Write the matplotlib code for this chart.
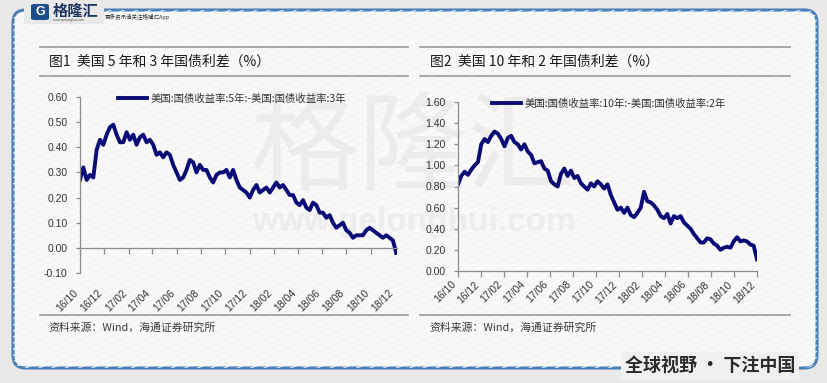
import numpy as np
import pandas as pd
import matplotlib
matplotlib.use('Agg')
import matplotlib.pyplot as plt
from matplotlib.patches import FancyBboxPatch, Rectangle
from matplotlib.lines import Line2D

plt.rcParams['font.family'] = ['Liberation Sans', 'Noto Sans CJK SC', 'DejaVu Sans']
CJK = ['Noto Sans CJK SC', 'DejaVu Sans']

# US 5y - 3y treasury spread (%)
spread_5_3 = [
    0.27, 0.32, 0.27, 0.29, 0.28, 0.39, 0.43, 0.41, 0.45, 0.48,
    0.49, 0.45, 0.42, 0.42, 0.46, 0.43, 0.45, 0.41, 0.44, 0.45,
    0.42, 0.43, 0.41, 0.37, 0.38, 0.36, 0.38, 0.37, 0.33, 0.30,
    0.27, 0.28, 0.31, 0.35, 0.34, 0.30, 0.33, 0.31, 0.31, 0.28,
    0.26, 0.29, 0.30, 0.30, 0.31, 0.28, 0.31, 0.27, 0.24, 0.23,
    0.22, 0.20, 0.23, 0.25, 0.22, 0.23, 0.24, 0.22, 0.24, 0.26,
    0.24, 0.25, 0.23, 0.21, 0.21, 0.18, 0.17, 0.19, 0.16, 0.15,
    0.18, 0.17, 0.14, 0.14, 0.12, 0.13, 0.10, 0.08, 0.09, 0.10,
    0.07, 0.06, 0.04, 0.05, 0.05, 0.05, 0.07, 0.08, 0.07, 0.06,
    0.05, 0.04, 0.05, 0.04, 0.03, -0.02,
]

# US 10y - 2y treasury spread (%)
spread_10_2 = [
    0.82, 0.90, 0.94, 0.91, 0.96, 1.00, 1.03, 1.20, 1.25, 1.22,
    1.28, 1.32, 1.30, 1.25, 1.18, 1.26, 1.28, 1.22, 1.20, 1.15,
    1.20, 1.13, 1.10, 1.02, 1.03, 1.04, 0.97, 0.95, 0.85, 0.82,
    0.80, 0.92, 0.97, 0.90, 0.95, 0.88, 0.90, 0.83, 0.80, 0.77,
    0.83, 0.80, 0.85, 0.82, 0.78, 0.82, 0.72, 0.65, 0.58, 0.60,
    0.55, 0.60, 0.53, 0.51, 0.55, 0.60, 0.75, 0.66, 0.65, 0.62,
    0.58, 0.52, 0.50, 0.54, 0.45, 0.52, 0.50, 0.52, 0.46, 0.43,
    0.40, 0.35, 0.31, 0.27, 0.27, 0.31, 0.30, 0.26, 0.24, 0.20,
    0.22, 0.23, 0.22, 0.28, 0.32, 0.28, 0.29, 0.28, 0.25, 0.24,
    0.11,
]

dates_5_3 = pd.date_range('2016-10-01', '2018-12-04', periods=len(spread_5_3))
dates_10_2 = pd.date_range('2016-10-01', '2018-12-01', periods=len(spread_10_2))
tick_dates = pd.date_range('2016-10-01', '2018-12-01', freq='2MS')
tick_labels = [d.strftime('%y/%m') for d in tick_dates]

label_5_3 = '美国:国债收益率:5年:-美国:国债收益率:3年'
label_10_2 = '美国:国债收益率:10年:-美国:国债收益率:2年'
title_1 = '图1  美国 5 年和 3 年国债利差（%）'
title_2 = '图2  美国 10 年和 2 年国债利差（%）'
source = '资料来源：Wind，海通证券研究所'

W, H = 828, 383
fx = lambda px: px / W
fy = lambda py: 1 - py / H

fig = plt.figure(figsize=(W / 100, H / 100), dpi=100)
fig.patch.set_facecolor('#e9e9e9')

# frame + stripes
frame = FancyBboxPatch((fx(13), fy(368)), fx(817) - fx(13), fy(10) - fy(368),
                       boxstyle='round,pad=0,rounding_size=0.015', mutation_aspect=W / H,
                       transform=fig.transFigure, facecolor='#f6f6f6',
                       edgecolor='#4a80b8', linewidth=2.2, zorder=-10)
fig.add_artist(frame)
for x0 in np.arange(-1.0, 1.0, 0.016):
    ln = Line2D([x0, x0 + 1.0], [0, 1], transform=fig.transFigure,
                color='white', lw=0.9, alpha=0.8, zorder=-9)
    ln.set_clip_path(frame)
    fig.add_artist(ln)

# watermark
fig.text(0.5, fy(152), '格隆汇', fontsize=78, color='#ececec', ha='center', va='center',
         family=CJK, zorder=-8)
fig.text(0.5, fy(222), 'www.gelonghui.com', fontsize=24, color='#ededed', ha='center',
         va='center', fontweight='bold', zorder=-8)

# logo
fig.add_artist(Rectangle((fx(24), fy(24)), fx(104) - fx(24), fy(0) - fy(24),
                         transform=fig.transFigure, facecolor='#e9e9e9',
                         edgecolor='none', zorder=-7))
fig.add_artist(FancyBboxPatch((fx(31), fy(20)), fx(49) - fx(31), fy(4) - fy(20),
                              boxstyle='round,pad=0,rounding_size=0.004',
                              transform=fig.transFigure, facecolor='#1d4f8c',
                              edgecolor='none', zorder=2))
fig.text(fx(40), fy(12), 'G', fontsize=9, color='white', fontweight='bold',
         ha='center', va='center', zorder=3)
fig.text(fx(53), fy(11), '格隆汇', fontsize=11, color='#1f3660', fontweight='bold',
         ha='left', va='center', family=CJK)
fig.text(fx(53), fy(20), 'www.gelonghui.com', fontsize=2.5, color='#555', ha='left', va='center')
fig.text(fx(105), fy(17), '更多资讯请关注格隆汇App', fontsize=4, color='#333',
         ha='left', va='center', family=CJK)

# slogan
fig.text(fx(710), fy(366), '全球视野 · 下注中国', fontsize=13, color='#2b2b2b',
         fontweight='bold', ha='center', va='center', family=CJK, zorder=6,
         bbox=dict(facecolor='#f0f0f0', edgecolor='none', pad=3))

# titles, rules, sources
for x0, x1, tx, title in [(40, 408, 49, title_1), (420, 790, 430, title_2)]:
    for yy in (47, 76, 315):
        fig.add_artist(Line2D([fx(x0), fx(x1)], [fy(yy)] * 2, transform=fig.transFigure,
                              color='#9a9a9a', lw=1.2))
    fig.text(fx(tx), fy(62), title, fontsize=10, color='#1a1a1a', ha='left',
             va='center', family=CJK)
    fig.text(fx(tx - 1), fy(328), source, fontsize=7.8, color='#3a3a3a', ha='left',
             va='center', family=CJK)


def style(ax, yticks, xpad):
    ax.set_facecolor('none')
    for s in ('top', 'right'):
        ax.spines[s].set_visible(False)
    for s in ('left', 'bottom'):
        ax.spines[s].set_color('#8c8c8c')
        ax.spines[s].set_linewidth(0.9)
    ax.set_yticks(yticks)
    ax.set_yticklabels(['%.2f' % v for v in yticks])
    ax.set_xticks(tick_dates)
    ax.set_xticklabels(tick_labels, rotation=45, ha='right')
    ax.tick_params(axis='y', direction='out', length=3, width=0.9, color='#8c8c8c',
                   labelsize=7.5, labelcolor='#333333', pad=6)
    ax.tick_params(axis='x', direction='out', length=4, width=0.9, color='#8c8c8c',
                   labelsize=7.5, labelcolor='#333333', pad=xpad)


line_color = '#0b0b78'

# left chart
ax1 = fig.add_axes([fx(80), fy(273), (397 - 80) / W, (273 - 97) / H])
ax1.plot(dates_5_3, spread_5_3, color=line_color, lw=2.8, label=label_5_3)
ax1.set_xlim(pd.Timestamp('2016-10-01'), pd.Timestamp('2018-12-06'))
ax1.set_ylim(-0.10, 0.60)
ax1.spines['bottom'].set_position(('data', 0))
style(ax1, np.round(np.arange(-0.1, 0.61, 0.1), 2), 25)
ax1.legend(loc='center left', bbox_to_anchor=(0.12, 0.99), frameon=False,
           handlelength=2.8, handletextpad=0.3, borderpad=0, borderaxespad=0,
           prop={'family': CJK, 'size': 7.5}, labelcolor='#333333')

# right chart
ax2 = fig.add_axes([fx(458), fy(271), (757 - 458) / W, (271 - 102) / H])
ax2.plot(dates_10_2, spread_10_2, color=line_color, lw=2.8, label=label_10_2)
ax2.set_xlim(pd.Timestamp('2016-10-01'), pd.Timestamp('2018-12-01'))
ax2.set_ylim(0, 1.6)
style(ax2, np.round(np.arange(0, 1.61, 0.2), 2), 2)
ax2.legend(loc='center left', bbox_to_anchor=(0.114, 0.988), frameon=False,
           handlelength=2.8, handletextpad=0.3, borderpad=0, borderaxespad=0,
           prop={'family': CJK, 'size': 7.5}, labelcolor='#333333')

fig.savefig('out.png', dpi=100, facecolor=fig.get_facecolor())
